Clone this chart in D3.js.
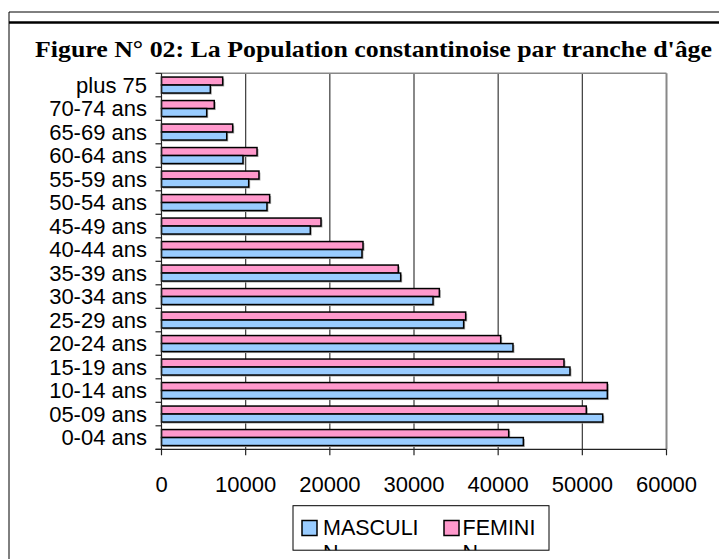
<!DOCTYPE html>
<html>
<head>
<meta charset="utf-8">
<script src="https://cdn.jsdelivr.net/npm/d3@7"></script>
<style>
  html, body { margin: 0; padding: 0; background: #fff; }
  svg { display: block; }
</style>
</head>
<body>
<svg id="chart" width="719" height="559"></svg>
<script>
// ---- data (top to bottom as displayed) ----
const categories = ["plus 75", "70-74 ans", "65-69 ans", "60-64 ans", "55-59 ans", "50-54 ans",
  "45-49 ans", "40-44 ans", "35-39 ans", "30-34 ans", "25-29 ans", "20-24 ans",
  "15-19 ans", "10-14 ans", "05-09 ans", "0-04 ans"];
const masculin = [5800, 5370, 7750, 9680, 10360, 12530, 17680, 23820, 28420, 32260, 35900, 41760, 48530, 52970, 52420, 42990];
const feminin  = [7270, 6270, 8460, 11350, 11580, 12850, 18950, 23940, 28130, 33010, 36140, 40300, 47820, 52970, 50470, 41250];
const xTicks = [0, 10000, 20000, 30000, 40000, 50000, 60000];
const seriesNames = ["MASCULI", "FEMINI"];
const seriesWrap = ["N", "N"];
const title = "Figure N\u00B0 02: La Population constantinoise par tranche d'\u00E2ge";

const colM = "#99CCFF", colF = "#FF99CC";

const svg = d3.select("#chart");

// outer frame
svg.append("line").attr("x1", 9).attr("x2", 719).attr("y1", 12).attr("y2", 12).attr("stroke", "#000").attr("stroke-width", 1);
svg.append("line").attr("x1", 9).attr("x2", 719).attr("y1", 22.5).attr("y2", 22.5).attr("stroke", "#000").attr("stroke-width", 2.5);
svg.append("line").attr("x1", 9).attr("x2", 9).attr("y1", 12).attr("y2", 559).attr("stroke", "#000").attr("stroke-width", 1);

// title
svg.append("text").attr("x", 35).attr("y", 57).attr("text-anchor", "start")
  .attr("font-family", "'Liberation Serif', 'Times New Roman', serif").attr("font-weight", "bold")
  .attr("font-size", 24).attr("textLength", 677).attr("lengthAdjust", "spacingAndGlyphs")
  .attr("fill", "#000").text(title);

// scales
const x = d3.scaleLinear().domain([0, 60000]).range([161.5, 666.5]);
const y = d3.scaleBand().domain(categories).range([73.3, 449.3]).paddingInner(0).paddingOuter(0);
const sub = d3.scaleBand().domain(["F", "M"]).range([0, y.bandwidth()]).paddingInner(0).paddingOuter(0.47);

const plotTop = y.range()[0], plotBottom = y.range()[1];

// gridlines
svg.append("g").selectAll("line").data(xTicks.filter(t => t > 0 && t < 60000)).join("line")
  .attr("x1", d => x(d)).attr("x2", d => x(d)).attr("y1", plotTop).attr("y2", plotBottom)
  .attr("stroke", "#3a3a3a").attr("stroke-width", 1.2);

// plot top and right border
svg.append("line").attr("x1", x(0)).attr("x2", x(60000)).attr("y1", plotTop).attr("y2", plotTop).attr("stroke", "#888").attr("stroke-width", 1.5);
svg.append("line").attr("x1", x(60000)).attr("x2", x(60000)).attr("y1", plotTop).attr("y2", plotBottom).attr("stroke", "#888").attr("stroke-width", 2);

// bars
const rows = categories.map((c, i) => ({ c, M: masculin[i], F: feminin[i] }));
const barG = svg.append("g");
["F", "M"].forEach(k => {
  barG.selectAll(null).data(rows).join("rect")
    .attr("x", x(0) + 1.5).attr("y", d => y(d.c) + sub(k) + 1.5)
    .attr("width", d => x(d[k]) - x(0)).attr("height", sub.bandwidth())
    .attr("fill", "#aaa");
});
["F", "M"].forEach(k => {
  barG.selectAll(null).data(rows).join("rect")
    .attr("x", x(0)).attr("y", d => y(d.c) + sub(k))
    .attr("width", d => x(d[k]) - x(0)).attr("height", sub.bandwidth())
    .attr("fill", k === "M" ? colM : colF).attr("stroke", "#000").attr("stroke-width", 1.5);
});

// left axis: line + ticks at category boundaries
const leftAxis = svg.append("g");
leftAxis.append("line").attr("x1", x(0)).attr("x2", x(0)).attr("y1", plotTop).attr("y2", plotBottom).attr("stroke", "#222").attr("stroke-width", 1.2);
const bounds = categories.map(c => y(c)).concat([plotBottom]);
leftAxis.selectAll(null).data(bounds).join("line")
  .attr("x1", x(0) - 6).attr("x2", x(0)).attr("y1", d => d).attr("y2", d => d)
  .attr("stroke", "#222").attr("stroke-width", 1.2);
leftAxis.selectAll(null).data(categories).join("text")
  .attr("x", 147).attr("y", d => y(d) + y.bandwidth() / 2).attr("dy", "0.36em")
  .attr("text-anchor", "end").attr("font-family", "'Liberation Sans', Arial, sans-serif")
  .attr("font-size", 22).attr("fill", "#000").text(d => d);

// bottom axis
const bAxis = svg.append("g");
bAxis.append("line").attr("x1", x(0) - 6).attr("x2", x(60000)).attr("y1", plotBottom).attr("y2", plotBottom).attr("stroke", "#222").attr("stroke-width", 1.2);
bAxis.selectAll(null).data(xTicks).join("line")
  .attr("x1", d => x(d)).attr("x2", d => x(d)).attr("y1", plotBottom).attr("y2", plotBottom + 6)
  .attr("stroke", "#222").attr("stroke-width", 1.2);
bAxis.selectAll(null).data(xTicks).join("text")
  .attr("x", d => x(d)).attr("y", 492).attr("text-anchor", "middle")
  .attr("font-family", "'Liberation Sans', Arial, sans-serif").attr("font-size", 22).attr("fill", "#000")
  .text(d => d);

// legend
const lg = svg.append("g");
const lx0 = 293, ly0 = 505.7, lw = 256, lh = 44.5;
lg.append("clipPath").attr("id", "lclip").append("rect").attr("x", lx0).attr("y", ly0).attr("width", lw).attr("height", lh);
lg.append("rect").attr("x", lx0).attr("y", ly0).attr("width", lw).attr("height", lh).attr("fill", "#fff").attr("stroke", "#000").attr("stroke-width", 1);
const items = [{ name: seriesNames[0], wrap: seriesWrap[0], col: colM, sx: 302, tx: 323 },
               { name: seriesNames[1], wrap: seriesWrap[1], col: colF, sx: 444, tx: 462.5 }];
items.forEach(it => {
  lg.append("rect").attr("x", it.sx).attr("y", 520.5).attr("width", 15).attr("height", 15)
    .attr("fill", it.col).attr("stroke", "#000").attr("stroke-width", 1.5);
  lg.append("text").attr("x", it.tx).attr("y", 534.5).attr("font-family", "'Liberation Sans', Arial, sans-serif")
    .attr("font-size", 21.5).attr("fill", "#000").text(it.name);
  lg.append("text").attr("x", it.tx).attr("y", 559.5).attr("clip-path", "url(#lclip)")
    .attr("font-family", "'Liberation Sans', Arial, sans-serif")
    .attr("font-size", 21.5).attr("fill", "#000").text(it.wrap);
});
</script>
</body>
</html>
